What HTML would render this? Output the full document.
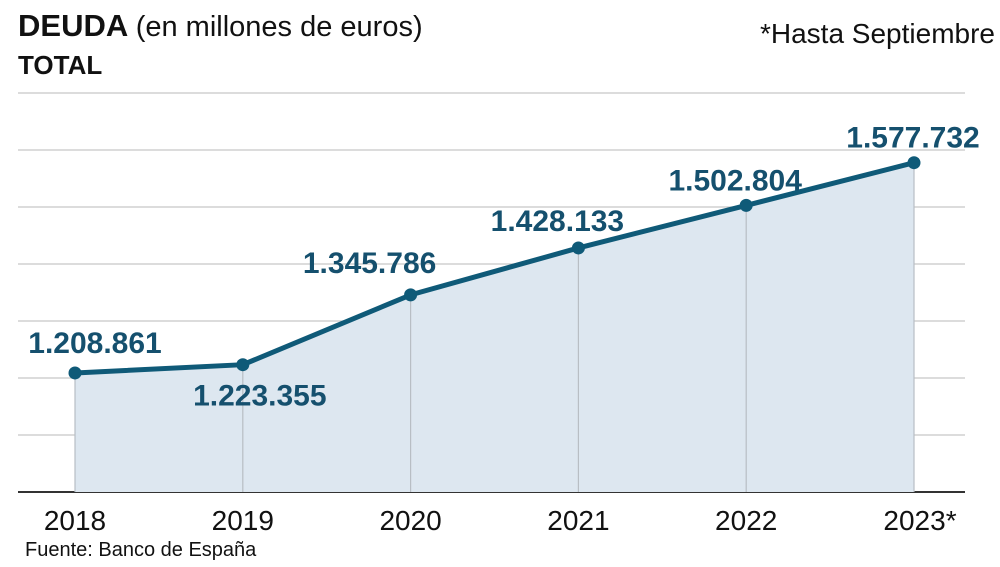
<!DOCTYPE html>
<html><head><meta charset="utf-8"><style>
body{margin:0;background:#fff}
svg{display:block;font-family:"Liberation Sans",sans-serif}
</style></head><body>
<svg id="c" width="1000" height="567">
<text x="18" y="36" font-size="31" font-weight="bold" fill="#111">DEUDA <tspan font-weight="normal" font-size="29">(en millones de euros)</tspan></text>
<text x="18" y="74" font-size="26" font-weight="bold" fill="#111">TOTAL</text>
<text x="995" y="43" font-size="28" text-anchor="end" fill="#111">*Hasta Septiembre</text>
<text x="25" y="556" font-size="20" fill="#111">Fuente: Banco de España</text>
<g id="grid"></g><g id="plot"></g>
</svg>
<script>
const years=["2018","2019","2020","2021","2022","2023*"];
const values=[1208861,1223355,1345786,1428133,1502804,1577732];
const labels=["1.208.861","1.223.355","1.345.786","1.428.133","1.502.804","1.577.732"];
const gridTicks=[1000000,1100000,1200000,1300000,1400000,1500000,1600000,1700000];
const NS="http://www.w3.org/2000/svg";
const xs=i=>75+i*167.8;
const ys=v=>378-(v-1200000)/100000*57;
function mk(t,a,p){const e=document.createElementNS(NS,t);for(const k in a)e.setAttribute(k,a[k]);p.appendChild(e);return e;}
const grid=document.getElementById('grid'),plot=document.getElementById('plot');
gridTicks.forEach((t,i)=>{const l=mk('line',{x1:18,x2:965,y1:ys(t),y2:ys(t),stroke:i==0?'#333':'#c8c8c8','stroke-width':i==0?2:1.2},grid);

});
let pts=values.map((v,i)=>[xs(i),ys(v)]);
const area=mk('path',{d:'M'+pts[0][0]+','+ys(1000000)+pts.map(p=>'L'+p[0]+','+p[1]).join('')+'L'+pts[pts.length-1][0]+','+ys(1000000)+'Z',fill:'#dde7f0'},plot);


pts.forEach((p,i)=>{const l=mk('line',{x1:p[0],x2:p[0],y1:p[1],y2:ys(1000000),stroke:'#b8bec4','stroke-width':1.2},plot);

});
const line=mk('polyline',{points:pts.map(p=>p.join(',')).join(' '),fill:'none',stroke:'#0f5a78','stroke-width':5,'stroke-linejoin':'round'},plot);


const lblOff=[[20,-20],[17,41],[-41,-22],[-21,-17],[-11,-15],[-1,-15]];
pts.forEach((p,i)=>{const c=mk('circle',{cx:p[0],cy:p[1],r:6.5,fill:'#0f5a78'},plot);


const t=mk('text',{x:p[0]+lblOff[i][0],y:p[1]+lblOff[i][1],'font-size':30,'font-weight':'bold',fill:'#15506e','text-anchor':'middle'},plot);t.textContent=labels[i];


const y=mk('text',{x:p[0]+(i==5?6:0),y:530,'font-size':28,fill:'#111','text-anchor':'middle'},plot);y.textContent=years[i];

});
</script>
</body></html>
